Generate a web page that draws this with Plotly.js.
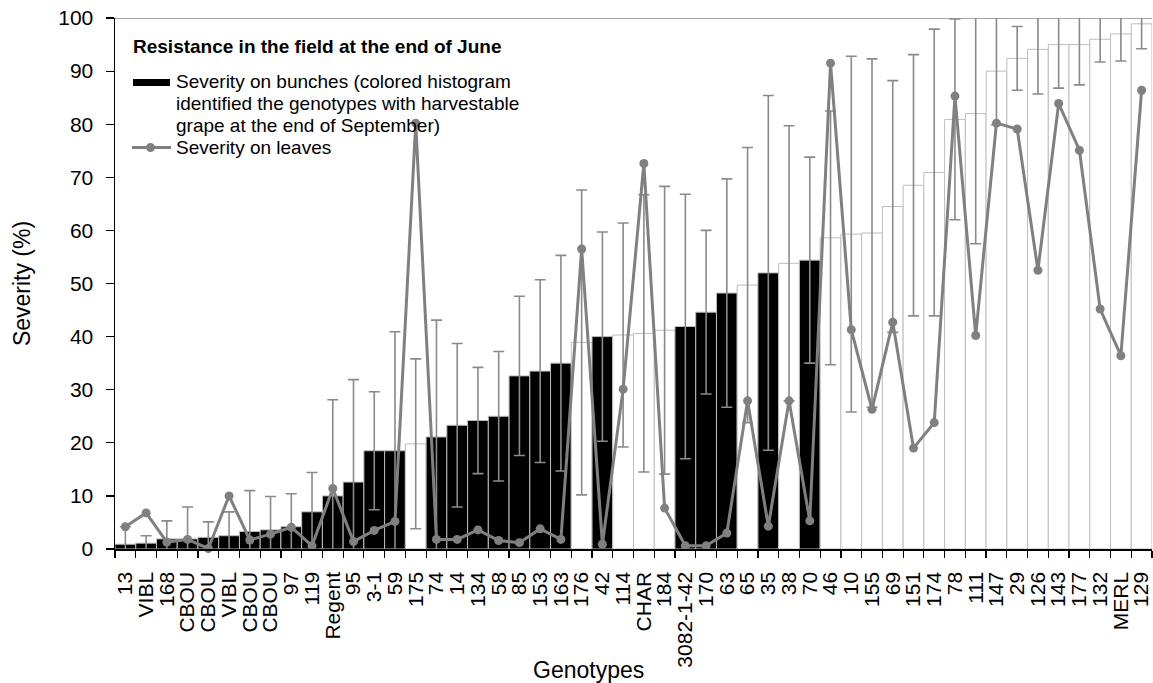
<!DOCTYPE html>
<html>
<head>
<meta charset="utf-8">
<script src="https://cdn.plot.ly/plotly-3.0.1.min.js"></script>
<style>html,body{margin:0;padding:0;background:#fff;}#chart{width:1153px;height:683px;}</style>
</head>
<body>
<div id="chart"></div>
<script>
const genotypes = ['13','VIBL','168','CBOU','CBOU','VIBL','CBOU','CBOU','97','119','Regent','95','3-1','59','175','74','14','134','58','85','153','163','176','42','114','CHAR','184','3082-1-42','170','63','65','35','38','70','46','10','155','69','151','174','78','111','147','29','126','143','177','132','MERL','129'];
const bunchSeverity = [0.9,1.1,1.9,1.9,2.2,2.5,3.3,3.6,4.2,7.0,10.0,12.6,18.5,18.5,19.8,21.1,23.3,24.2,25.0,32.6,33.5,35.0,38.9,40.0,40.3,40.6,41.2,41.9,44.6,48.2,49.7,52.0,53.8,54.4,58.6,59.3,59.5,64.5,68.5,70.9,80.9,82.0,90.0,92.4,94.1,95.0,95.0,96.0,97.0,98.9];
const bunchError = [3.3,1.4,3.4,6.0,2.9,4.5,7.7,6.3,6.2,7.4,18.1,19.3,11.1,22.4,16.0,22.0,15.4,10.0,12.2,15.0,17.2,20.3,28.7,19.7,21.1,26.1,27.1,24.9,15.4,21.5,25.9,33.4,25.9,19.4,23.9,33.5,32.8,23.7,24.6,27.0,18.9,24.5,10.1,6.0,8.4,8.2,7.6,4.3,5.1,4.7];
const leafSeverity = [4.2,6.8,1.3,1.8,0.1,10.0,1.7,2.8,4.1,0.6,11.4,1.4,3.5,5.2,80.2,1.8,1.8,3.6,1.6,1.2,3.8,1.8,56.5,0.9,30.1,72.6,7.7,0.6,0.6,3.0,27.9,4.3,27.9,5.3,91.5,41.3,26.3,42.7,19.0,23.8,85.3,40.2,80.2,79.1,52.5,83.9,75.1,45.2,36.4,86.4];
const harvestable = [1,1,1,1,1,1,1,1,1,1,1,1,1,1,0,1,1,1,1,1,1,1,0,1,0,0,0,1,1,1,0,1,0,1,0,0,0,0,0,0,0,0,0,0,0,0,0,0,0,0];
const yTicks = [0,10,20,30,40,50,60,70,80,90,100];
const legendTitle = 'Resistance in the field at the end of June';
const bunchLegendLines = ['Severity on bunches (colored histogram', 'identified the genotypes with harvestable', 'grape at the end of September)'];
const leafLegend = 'Severity on leaves';

const idx = genotypes.map((g, i) => i);
const FONT = 'Liberation Sans, Arial, sans-serif';
const W = 1153, H = 683, ML = 115, MR = 1, MT = 18, MB = 134;
const PW = W - ML - MR, PH = H - MT - MB;
const px = x => (x - ML) / PW;          // pixel -> paper x
const py = y => (H - MB - y) / PH;      // pixel -> paper y
const GREY = '#808080';

const bars = {
  type: 'bar',
  x: idx,
  y: bunchSeverity,
  name: bunchLegendLines.join(' '),
  showlegend: false,
  marker: {
    color: harvestable.map(h => h ? '#000000' : '#ffffff'),
    line: {color: '#bdbdbd', width: 1}
  },
  error_y: {type: 'data', array: bunchError, visible: true, color: '#8a8a8a', thickness: 1.6, width: 5.5}
};
const leaves = {
  type: 'scatter',
  mode: 'lines+markers',
  x: idx,
  y: leafSeverity,
  name: leafLegend,
  showlegend: false,
  line: {color: GREY, width: 3},
  marker: {color: GREY, size: 9, symbol: 'circle'},
  cliponaxis: false
};

const legendFont = {family: FONT, size: 19, color: '#000'};
const annotations = [
  {text: 'Genotypes', xref: 'paper', yref: 'paper', x: px(588), y: py(670), xanchor: 'center', yanchor: 'middle', showarrow: false, font: {family: FONT, size: 23, color: '#000'}},
  {text: '<b>' + legendTitle + '</b>', xref: 'paper', yref: 'paper', x: px(131), y: py(46.5), xanchor: 'left', yanchor: 'middle', showarrow: false, font: {family: FONT, size: 19, color: '#000'}}
];
const lineCenters = [81, 103.5, 125.5];
bunchLegendLines.forEach((t, i) => annotations.push({text: t, xref: 'paper', yref: 'paper', x: px(174), y: py(lineCenters[i]), xanchor: 'left', yanchor: 'middle', showarrow: false, font: legendFont}));
annotations.push({text: leafLegend, xref: 'paper', yref: 'paper', x: px(174), y: py(147.5), xanchor: 'left', yanchor: 'middle', showarrow: false, font: legendFont});

const layout = {
  width: W, height: H,
  margin: {l: ML, r: MR, t: MT, b: MB},
  paper_bgcolor: '#ffffff', plot_bgcolor: '#ffffff',
  font: {family: FONT, color: '#000000', size: 21},
  bargap: 0,
  showlegend: false,
  xaxis: {
    range: [-0.5, genotypes.length - 0.5],
    tickmode: 'array', tickvals: idx, ticktext: genotypes,
    tickangle: -90, ticks: '', ticklabelstandoff: 13,
    tickfont: {family: FONT, size: 21},
    minor: {ticks: 'outside', tick0: -0.5, dtick: 1, ticklen: 7, tickcolor: '#000', tickwidth: 1.2, showgrid: false},
    showline: true, linecolor: '#000', linewidth: 1.5,
    showgrid: false, zeroline: false, fixedrange: true
  },
  yaxis: {
    range: [0, 100], tickmode: 'array', tickvals: yTicks,
    ticks: 'outside', ticklen: 8, tickcolor: '#000', tickwidth: 1.2,
    showline: true, linecolor: '#000', linewidth: 1.5,
    showgrid: false, zeroline: false,
    tickfont: {family: FONT, size: 21}, ticklabelstandoff: 8,
    title: {text: 'Severity (%)', font: {family: FONT, size: 23}, standoff: 21},
    fixedrange: true
  },
  shapes: [
    {type: 'line', xref: 'paper', yref: 'y', x0: 0, x1: 1, y0: 100, y1: 100, line: {color: '#8a8a8a', width: 1.5}},
    {type: 'rect', xref: 'paper', yref: 'paper', x0: px(133), x1: px(170), y0: py(79), y1: py(86), fillcolor: '#000', line: {width: 0}},
    {type: 'line', xref: 'paper', yref: 'paper', x0: px(132), x1: px(171), y0: py(147.5), y1: py(147.5), line: {color: GREY, width: 3}},
    {type: 'circle', xref: 'paper', yref: 'paper', x0: px(146), x1: px(155), y0: py(143), y1: py(152), fillcolor: GREY, line: {width: 0}}
  ],
  annotations: annotations
};

Plotly.newPlot('chart', [bars, leaves], layout, {displayModeBar: false, staticPlot: true});
</script>
</body>
</html>
